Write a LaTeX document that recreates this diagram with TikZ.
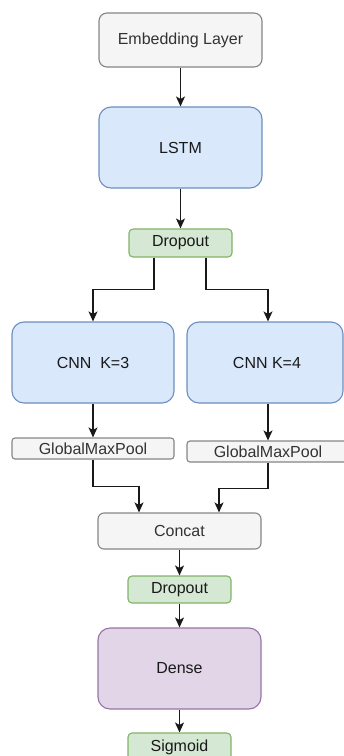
\documentclass[tikz,border=0pt]{standalone}
\usepackage{fontspec}
\setmainfont{Liberation Sans}
\usetikzlibrary{arrows.meta,calc}

\definecolor{grayfill}{HTML}{F5F5F5}
\definecolor{graydraw}{HTML}{666666}
\definecolor{bluefill}{HTML}{DAE8FC}
\definecolor{bluedraw}{HTML}{6C8EBF}
\definecolor{greenfill}{HTML}{D5E8D4}
\definecolor{greendraw}{HTML}{82B366}
\definecolor{purplefill}{HTML}{E1D5E7}
\definecolor{purpledraw}{HTML}{9673A6}
\definecolor{textgray}{HTML}{333333}

\tikzset{
  layer/.style={draw, line width=1.1pt, inner sep=0pt, font=\fontsize{16}{18}\selectfont},
  graybox/.style={layer, fill=grayfill, draw=graydraw!80, text=textgray},
  bluebox/.style={layer, fill=bluefill, draw=bluedraw, text=black!90},
  greenbox/.style={layer, fill=greenfill, draw=greendraw, text=black!90},
  purplebox/.style={layer, fill=purplefill, draw=purpledraw, text=black!90},
  arr/.style={draw=black!90, line width=1.2pt, -{Stealth[length=10pt,width=9pt,inset=2.5pt]}}
}

\begin{document}
\begin{tikzpicture}[x=1pt,y=-1pt]
\useasboundingbox (0,0) rectangle (344,756);

% main column
\node[graybox, rounded corners=8pt, minimum width=163pt, minimum height=54pt] (emb) at (180.5,40) {Embedding Layer};
\node[bluebox, rounded corners=12pt, minimum width=163pt, minimum height=81pt] (lstm) at (180.5,147.5) {LSTM};
\node[greenbox, rounded corners=4pt, minimum width=103pt, minimum height=28pt] (drop1) at (180.5,243) {Dropout};

% two convolution branches
\node[bluebox, rounded corners=12pt, minimum width=162pt, minimum height=81pt] (cnn3) at (93,362.5) {CNN\ \ K=3};
\node[bluebox, rounded corners=12pt, minimum width=156pt, minimum height=81pt] (cnn4) at (265,362.5) {\hspace{4pt}CNN K=4};
\node[graybox, rounded corners=3pt, minimum width=162pt, minimum height=21pt] (gmp1) at (93,448.5) {GlobalMaxPool};
\node[graybox, rounded corners=3pt, minimum width=162pt, minimum height=21pt] (gmp2) at (268,451.5) {GlobalMaxPool};

% merge and output
\node[graybox, rounded corners=6pt, minimum width=163pt, minimum height=36pt] (concat) at (179.5,531) {Concat};
\node[greenbox, rounded corners=4pt, minimum width=103pt, minimum height=27pt] (drop2) at (179.5,589.5) {Dropout};
\node[purplebox, rounded corners=12pt, minimum width=163pt, minimum height=81pt] (dense) at (179.5,668.5) {Dense};
\node[greenbox, rounded corners=4pt, minimum width=103pt, minimum height=28pt] (sig) at (179.5,747) {Sigmoid};

% connectors
\draw[arr] (emb) -- (lstm);
\draw[arr] (lstm) -- (drop1);
\draw[arr] ([xshift=-26.5pt]drop1.south) -- ++(0,32) -| (cnn3.north);
\draw[arr] ([xshift=25.5pt]drop1.south) -- ++(0,32) -| ([xshift=3pt]cnn4.north);
\draw[arr] (cnn3) -- (gmp1);
\draw[arr] ([xshift=3pt]cnn4.south) -- (gmp2.north);
\draw[arr] (gmp1.south) -- ++(0,27) -| ([xshift=-40.5pt]concat.north);
\draw[arr] (gmp2.south) -- ++(0,26) -| ([xshift=39.5pt]concat.north);
\draw[arr] (concat) -- (drop2);
\draw[arr] (drop2) -- (dense);
\draw[arr] (dense) -- (sig);
\end{tikzpicture}
\end{document}
